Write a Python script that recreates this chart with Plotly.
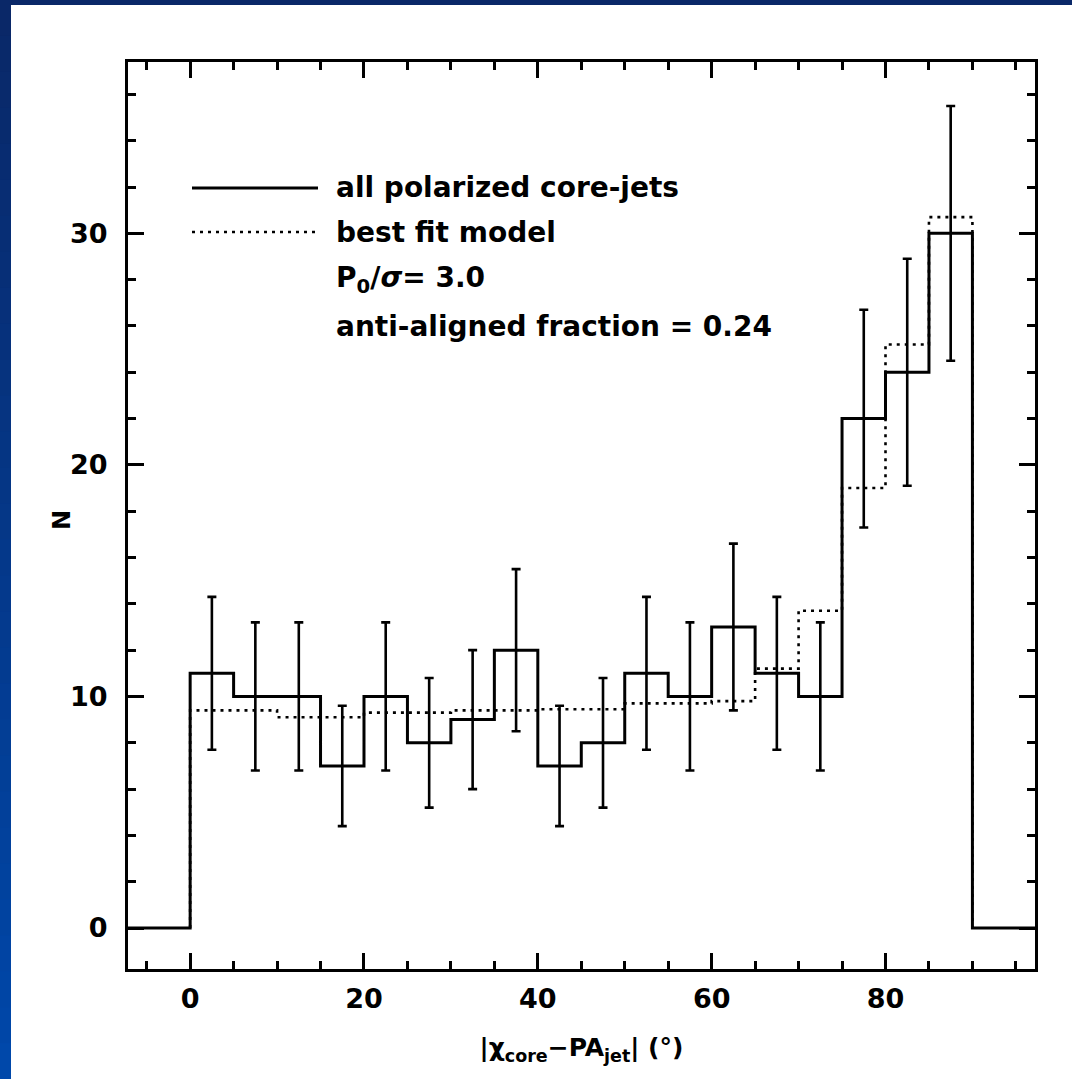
import plotly.graph_objects as go

# ---- data ----
bin_edges = [-10, 0, 5, 10, 15, 20, 25, 30, 35, 40, 45, 50, 55, 60, 65, 70, 75, 80, 85, 90, 100]
counts = [0, 11, 10, 10, 7, 10, 8, 9, 12, 7, 8, 11, 10, 13, 11, 10, 22, 24, 30, 0, 0]

bin_centers = [2.5, 7.5, 12.5, 17.5, 22.5, 27.5, 32.5, 37.5, 42.5, 47.5,
               52.5, 57.5, 62.5, 67.5, 72.5, 77.5, 82.5, 87.5]
center_counts = [11, 10, 10, 7, 10, 8, 9, 12, 7, 8, 11, 10, 13, 11, 10, 22, 24, 30]
count_errors = [3.3, 3.2, 3.2, 2.6, 3.2, 2.8, 3.0, 3.5, 2.6, 2.8,
                3.3, 3.2, 3.6, 3.3, 3.2, 4.7, 4.9, 5.5]

model_edges = [0, 0, 5, 10, 15, 20, 25, 30, 35, 40, 45, 50, 55, 60, 65, 70, 75, 80, 85, 90]
model_values = [0, 9.4, 9.4, 9.1, 9.1, 9.3, 9.3, 9.4, 9.4, 9.45, 9.45, 9.7, 9.7, 9.8,
                11.2, 13.7, 19.0, 25.2, 30.7, 0]

x_title = "|χ<sub>core</sub>−PA<sub>jet</sub>| (°)"
y_title = "N"
legend_texts = ["all polarized core-jets", "best fit model",
                "P<sub>0</sub>/<i>σ</i>= 3.0", "anti-aligned fraction = 0.24"]

FONT = "DejaVu Sans"

fig = go.Figure()

fig.add_trace(go.Scatter(
    x=model_edges, y=model_values, mode="lines", line_shape="hv",
    line=dict(color="black", width=2.6, dash="3px,5px"), showlegend=False,
    hoverinfo="skip"))

fig.add_trace(go.Scatter(
    x=bin_edges, y=counts, mode="lines", line_shape="hv",
    line=dict(color="black", width=3), showlegend=False))

fig.add_trace(go.Scatter(
    x=bin_centers, y=center_counts, mode="markers",
    marker=dict(size=1, color="rgba(0,0,0,0)"),
    error_y=dict(type="data", array=count_errors, visible=True,
                 color="black", thickness=2.6, width=4.5),
    showlegend=False))

# plot-area geometry helpers (pixels -> paper)
L, R, T, B = 128, 37, 62, 110
W = 1072 - L - R
H = 1079 - T - B


def px(xp):
    return (xp - L) / W


def py(yp):
    return (1079 - B - yp) / H


shapes = []
# blue frame of the slide: top band and gradient left band
top_col = (10, 40, 104)
bot_col = (0, 72, 170)
n = 30
for i in range(n):
    f = i / (n - 1)
    c = tuple(int(top_col[k] + (bot_col[k] - top_col[k]) * f) for k in range(3))
    y0p = 1079 * i / n
    y1p = 1079 * (i + 1) / n + 1
    shapes.append(dict(type="rect", xref="paper", yref="paper",
                       x0=px(0), x1=px(11), y0=py(y1p), y1=py(y0p),
                       line=dict(width=0), fillcolor="rgb(%d,%d,%d)" % c))
shapes.append(dict(type="rect", xref="paper", yref="paper",
                   x0=px(0), x1=px(1072), y0=py(5), y1=py(0),
                   line=dict(width=0), fillcolor="rgb(%d,%d,%d)" % top_col))

# legend sample lines
shapes.append(dict(type="line", xref="paper", yref="paper",
                   x0=px(192), x1=px(318), y0=py(188), y1=py(188),
                   line=dict(color="black", width=3)))
shapes.append(dict(type="line", xref="paper", yref="paper",
                   x0=px(192), x1=px(318), y0=py(232), y1=py(232),
                   line=dict(color="black", width=2.6, dash="3px,5px")))

annotations = []
for txt, yp in zip(legend_texts, [188, 232, 279, 326]):
    annotations.append(dict(text=txt, xref="paper", yref="paper",
                            x=px(334), y=py(yp), xanchor="left", yanchor="middle",
                            showarrow=False,
                            font=dict(family=FONT, size=28, color="black", weight="bold")))

# y-axis title placed as a rotated annotation
annotations.append(dict(text=y_title, xref="paper", yref="paper",
                        x=px(62), y=py(520), xanchor="center", yanchor="middle",
                        textangle=-90, showarrow=False,
                        font=dict(family=FONT, size=24, color="black", weight="bold")))

axis_common = dict(showline=True, linewidth=3, linecolor="black", mirror="ticks",
                   ticks="inside", tickwidth=2.5, tickcolor="black",
                   showgrid=False, zeroline=False,
                   tickfont=dict(family=FONT, size=27, color="black", weight="bold"))

fig.update_layout(
    width=1072, height=1079,
    margin=dict(l=L, r=R, t=T, b=B),
    paper_bgcolor="white", plot_bgcolor="white",
    shapes=shapes, annotations=annotations,
    xaxis=dict(range=[-7.15, 97.2], tick0=0, dtick=20, ticklen=16,
               ticklabelstandoff=4,
               minor=dict(dtick=5, tick0=0, ticklen=8, tickwidth=2.5, ticks="inside",
                          tickcolor="black", showgrid=False),
               title=dict(text=x_title, standoff=26,
                          font=dict(family=FONT, size=25, color="black", weight="bold")),
               **axis_common),
    yaxis=dict(range=[-1.77, 37.4], tick0=0, dtick=10, ticklen=16,
               ticklabelstandoff=12,
               minor=dict(dtick=2, tick0=0, ticklen=8, tickwidth=2.5, ticks="inside",
                          tickcolor="black", showgrid=False),
               **axis_common),
)

fig.write_html("out.html")
